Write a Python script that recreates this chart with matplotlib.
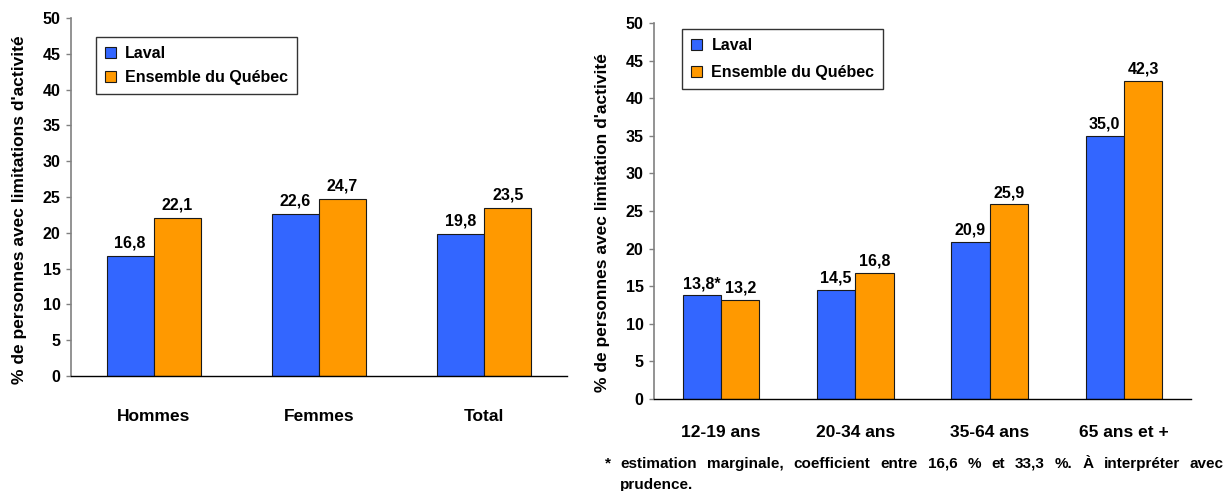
import numpy as np
import matplotlib
matplotlib.use('Agg')
import matplotlib.pyplot as plt

plt.rcParams['font.family'] = ['Liberation Sans', 'DejaVu Sans']
plt.rcParams['font.weight'] = 'bold'

# données
sexe_labels = ['Hommes', 'Femmes', 'Total']
sexe_laval = [16.8, 22.6, 19.8]
sexe_quebec = [22.1, 24.7, 23.5]

age_labels = ['12-19 ans', '20-34 ans', '35-64 ans', '65 ans et +']
age_laval = [13.8, 14.5, 20.9, 35.0]
age_quebec = [13.2, 16.8, 25.9, 42.3]
age_marginal = [True, False, False, False]

series_names = ['Laval', 'Ensemble du Québec']
bleu = '#3366FF'
orange = '#FF9900'

note1 = "estimation marginale, coefficient entre 16,6 % et 33,3 %. À interpréter avec"
note2 = "prudence."


def fmt(v):
    return f"{v:.1f}".replace('.', ',')


def graphique(ax, labels, laval, quebec, ylabel, marginal=None, xpad=25, lab_off=4,
              leg_anchor=(0.05, 0.95), leg_spacing=0.65, ylab_xy=(-0.09, 0.46)):
    x = np.arange(len(labels))
    w = 0.285
    b1 = ax.bar(x - w / 2, laval, w, color=bleu, edgecolor='#1a1a1a', linewidth=0.8,
                label=series_names[0])
    b2 = ax.bar(x + w / 2, quebec, w, color=orange, edgecolor='#1a1a1a', linewidth=0.8,
                label=series_names[1])
    for i, r in enumerate(b1):
        txt = fmt(laval[i])
        if marginal and marginal[i]:
            txt += '*'
        ax.annotate(txt, (r.get_x() + r.get_width() / 2, r.get_height()),
                    xytext=(0, lab_off), textcoords='offset points',
                    ha='center', va='bottom', fontsize=11.5, fontweight='bold')
    for i, r in enumerate(b2):
        ax.annotate(fmt(quebec[i]), (r.get_x() + r.get_width() / 2, r.get_height()),
                    xytext=(0, lab_off), textcoords='offset points',
                    ha='center', va='bottom', fontsize=11.5, fontweight='bold')

    ax.set_xlim(-0.5, len(labels) - 0.5)
    ax.set_ylim(0, 50)
    ax.set_yticks(range(0, 51, 5))
    ax.set_xticks(x)
    ax.set_xticklabels(labels, fontsize=12.5, fontweight='bold')
    ax.tick_params(axis='x', length=0, pad=xpad)
    ax.tick_params(axis='y', length=3.5, width=1, color='#808080', pad=4, labelsize=11.5)
    for lab in ax.get_yticklabels():
        lab.set_fontweight('bold')
    ax.spines['top'].set_visible(False)
    ax.spines['right'].set_visible(False)
    ax.spines['left'].set_color('#808080')
    ax.spines['left'].set_linewidth(1.2)
    ax.spines['bottom'].set_color('black')
    ax.spines['bottom'].set_linewidth(1)

    ax.set_ylabel(ylabel, fontsize=12.5, fontweight='bold')
    ax.yaxis.set_label_coords(*ylab_xy)

    leg = ax.legend(loc='upper left', bbox_to_anchor=leg_anchor, borderaxespad=0,
                    fancybox=False, handlelength=0.7, handleheight=0.7,
                    handletextpad=0.6, borderpad=0.55, labelspacing=leg_spacing,
                    prop={'weight': 'bold', 'size': 11.5})
    leg.get_frame().set_edgecolor('black')
    leg.get_frame().set_linewidth(1)


fig = plt.figure(figsize=(12.28, 4.91), dpi=100)
ax1 = fig.add_axes([71 / 1228, 115 / 491, 496 / 1228, 358 / 491])
ax2 = fig.add_axes([654 / 1228, 92 / 491, 537 / 1228, 376 / 491])

graphique(ax1, sexe_labels, sexe_laval, sexe_quebec,
          "% de personnes avec limitations d'activité",
          xpad=24, lab_off=4, leg_anchor=(0.05, 0.947), leg_spacing=0.6,
          ylab_xy=(-0.089, 0.464))
graphique(ax2, age_labels, age_laval, age_quebec,
          "% de personnes avec limitation d'activité", marginal=age_marginal,
          xpad=19, lab_off=3, leg_anchor=(0.052, 0.984), leg_spacing=0.75,
          ylab_xy=(-0.082, 0.47))

# note de bas de page, justifiée
W, H = 1228, 491
fig.text(608 / W, 1 - 467 / H, '*', ha='center', va='baseline', fontsize=11, fontweight='bold')
renderer = fig.canvas.get_renderer()
mots = note1.split()
objs = [fig.text(0, 1 - 468 / H, m, ha='left', va='baseline', fontsize=11, fontweight='bold')
        for m in mots]
largeurs = [o.get_window_extent(renderer).width for o in objs]
x0, x1 = 620, 1224
espace = (x1 - x0 - sum(largeurs)) / (len(mots) - 1)
pos = x0
for o, lw in zip(objs, largeurs):
    o.set_x(pos / W)
    pos += lw + espace
fig.text(620 / W, 1 - 489 / H, note2, ha='left', va='baseline', fontsize=11, fontweight='bold')

fig.savefig('out.png', dpi=100)
